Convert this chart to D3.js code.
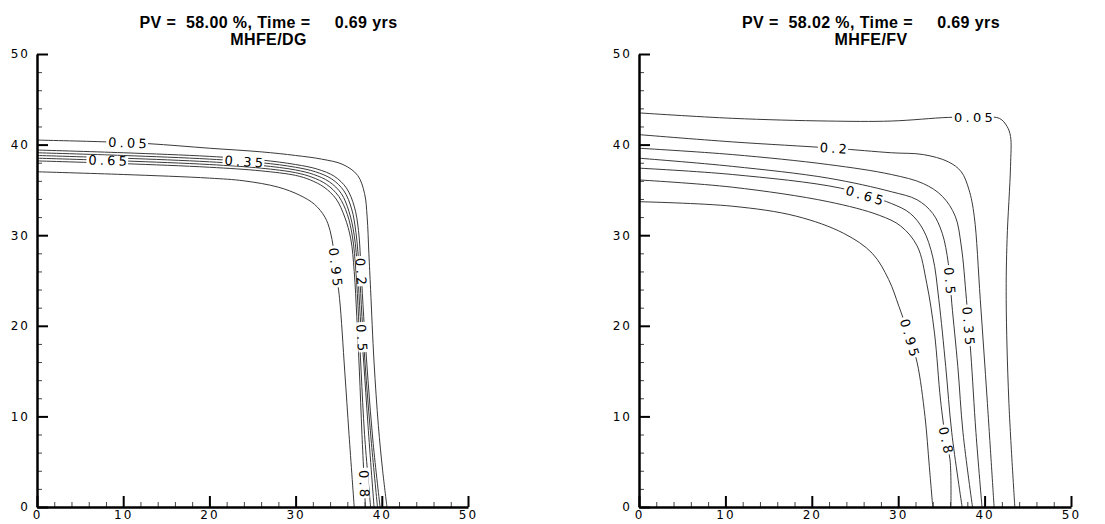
<!DOCTYPE html>
<html>
<head>
<meta charset="utf-8">
<script src="https://cdn.jsdelivr.net/npm/d3@7"></script>
<style>
  body { margin: 0; background: #fff; }
</style>
</head>
<body>
<svg id="chart" width="1105" height="524"></svg>
<script>
// axis ticks
const majorTicks = [0, 10, 20, 30, 40, 50];
const minorTicks = [2, 4, 6, 8, 12, 14, 16, 18, 22, 24, 26, 28, 32, 34, 36, 38, 42, 44, 46, 48];

// contour levels and their label text
const levels = [0.05, 0.2, 0.35, 0.5, 0.65, 0.8, 0.95];
const levelText = ['0.05', '0.2', '0.35', '0.5', '0.65', '0.8', '0.95'];

// MHFE/DG contour lines, one per level, [x, y]
const dgLines = [
  [[0,40.5],[8,40.3],[13,40.1],[20,39.6],[26,39.2],[30,38.8],[33,38.4],[35.5,37.8],[37.2,36.6],[38.0,34.6],[38.3,32],[38.5,28],[38.7,24],[39.1,16],[39.6,9],[40.1,4],[40.6,0]],
  [[0,39.4],[10,39.1],[20,38.7],[26,38.3],[30,37.8],[32.5,37.3],[34.5,36.5],[35.9,35.2],[36.8,33.2],[37.3,30.5],[37.6,26],[37.9,21],[38.4,14],[39.0,7],[39.8,0]],
  [[0,39.1],[10,38.8],[20,38.4],[26,38.0],[30,37.5],[32.3,37.0],[34.2,36.2],[35.6,34.9],[36.5,32.9],[37.0,30.3],[37.4,26],[37.7,21],[38.2,14],[38.8,7],[39.5,0]],
  [[0,38.8],[10,38.5],[20,38.1],[26,37.7],[30,37.2],[32.1,36.7],[33.9,35.9],[35.3,34.6],[36.2,32.6],[36.8,30.0],[37.2,26],[37.5,21],[37.9,16],[38.4,9],[39.1,0]],
  [[0,38.5],[10,38.2],[20,37.8],[26,37.4],[30,36.9],[31.9,36.4],[33.6,35.6],[35.0,34.3],[36.0,32.3],[36.6,29.8],[37.0,26],[37.3,21],[37.6,15],[38.0,8],[38.7,0]],
  [[0,38.2],[10,37.9],[20,37.5],[26,37.1],[30,36.6],[31.7,36.1],[33.3,35.3],[34.7,34.0],[35.7,32.0],[36.4,29.6],[36.8,26],[37.1,21],[37.4,15],[37.7,8],[38.1,0]],
  [[0,37.0],[10,36.7],[20,36.3],[24,36.0],[28,35.3],[30.5,34.4],[32.2,33.4],[33.4,32.0],[34.0,30.5],[34.4,28.5],[34.7,26],[35.1,23],[35.7,15],[36.2,8],[36.8,0]]
];
// where each DG label sits: level index, axis it is measured on, value
const dgLabels = [[0, 'x', 10.5], [4, 'x', 8.2], [2, 'x', 24], [6, 'y', 26.5], [1, 'y', 26], [3, 'y', 18.7], [5, 'y', 2.6]];

// MHFE/FV contour lines
const fvLines = [
  [[0,43.5],[10.8,42.9],[21.9,42.6],[29.2,42.6],[35.8,43.0],[38.7,43.0],[41.7,42.9],[42.6,42.0],[43.0,40.9],[43.0,37.6],[42.6,29.5],[42.5,22.9],[42.8,11.8],[43.5,0]],
  [[0,41.1],[10.8,40.3],[22.5,39.6],[29.2,39.1],[32.9,38.9],[35.8,38.1],[37.3,37.0],[38.2,35.0],[38.8,32.1],[39.5,22.9],[40.3,11.8],[41.1,0]],
  [[0,39.6],[10.8,38.9],[21.9,37.8],[29.2,36.7],[32.9,35.7],[35.1,34.3],[36.6,32.1],[37.3,28.8],[37.9,22.9],[38.4,17.0],[39.0,8.2],[39.7,0]],
  [[0,38.5],[10.8,37.6],[21.9,36.3],[29.2,34.8],[32.2,33.9],[34.0,32.4],[35.1,30.2],[35.8,26.9],[36.2,22.5],[36.9,15.5],[37.5,8.2],[38.6,0]],
  [[0,37.4],[10.8,36.7],[23.3,35.2],[29.2,33.5],[31.4,32.4],[32.9,30.6],[34.0,27.6],[34.7,22.9],[35.5,15.5],[36.2,8.2],[37.4,0]],
  [[0,36.1],[10.8,35.3],[21.9,33.7],[27.8,32.2],[30.3,31.0],[32.2,28.8],[33.3,24.7],[34.2,19.2],[34.9,11.8],[35.5,7.5],[36.0,5.2],[36.1,0]],
  [[0,33.7],[10.8,33.2],[18.2,32.1],[23.7,30.2],[27.0,28.0],[28.9,25.1],[30.1,22.1],[31.3,18.8],[32.2,15.9],[33.1,10.0],[33.6,4.5],[34.0,0]]
];
const fvLabels = [[0, 'x', 38.7], [1, 'x', 22.5], [4, 'x', 26.1], [3, 'y', 25], [2, 'y', 20], [6, 'y', 18.7], [5, 'y', 7.4]];

const titles = ['PV =  58.00 %, Time =     0.69 yrs', 'PV =  58.02 %, Time =     0.69 yrs'];
const subtitles = ['MHFE/DG', 'MHFE/FV'];

const svg = d3.select('#chart');

// find the point of a polyline at a given x or y, plus the local segment
function pointOn(pts, along, at) {
    const k = along === 'x' ? 0 : 1;
    for (let i = 0; i < pts.length - 1; i++) {
        const a = pts[i][k], b = pts[i + 1][k];
        if ((a - at) * (b - at) <= 0 && a !== b) {
            const t = (at - a) / (b - a);
            return {
                p: [pts[i][0] + t * (pts[i + 1][0] - pts[i][0]), pts[i][1] + t * (pts[i + 1][1] - pts[i][1])],
                p1: pts[i], p2: pts[i + 1]
            };
        }
    }
    return null;
}

function drawPanel(left, right, lines, labels, title, subtitle) {
    const x = d3.scaleLinear().domain([0, 50]).range([left, right]);
    const y = d3.scaleLinear().domain([0, 50]).range([507, 54]);
    const g = svg.append('g');

    // title, two lines
    const cx = (left + right) / 2 + 16;
    [[title, 27.5], [subtitle, 45]].forEach(([t, ty]) => {
        g.append('text')
            .attr('x', cx).attr('y', ty)
            .attr('text-anchor', 'middle')
            .attr('fill', '#000')
            .style('font-family', 'Liberation Sans, Arial, sans-serif')
            .style('font-weight', 'bold')
            .style('font-size', '16px')
            .style('letter-spacing', '0.4px')
            .style('white-space', 'pre')
            .text(t);
    });

    // contour lines
    const line = d3.line()
        .x(d => x(d[0]))
        .y(d => y(d[1]))
        .curve(d3.curveCatmullRom.alpha(0.5));

    g.append('g').selectAll('path')
        .data(lines)
        .join('path')
        .attr('d', line)
        .attr('fill', 'none')
        .attr('stroke', '#3a3a3a')
        .attr('stroke-width', 1);

    // contour labels on a white box that cuts the line
    labels.forEach(([li, along, at]) => {
        const hit = pointOn(lines[li], along, at);
        if (!hit) return;
        let ang = Math.atan2(y(hit.p2[1]) - y(hit.p1[1]), x(hit.p2[0]) - x(hit.p1[0])) * 180 / Math.PI;
        if (ang > 100) ang -= 180;
        if (ang < -100) ang += 180;
        const lg = g.append('g')
            .attr('transform', `translate(${x(hit.p[0])},${y(hit.p[1])}) rotate(${ang})`);
        const bg = lg.append('rect').attr('fill', '#fff');
        const t = lg.append('text')
            .attr('x', 1.6)
            .attr('dy', '0.36em')
            .attr('text-anchor', 'middle')
            .attr('fill', '#000')
            .style('font-family', 'DejaVu Sans, sans-serif')
            .style('font-size', '13px')
            .style('letter-spacing', '3.2px')
            .text(levelText[li]);
        const bb = t.node().getBBox();
        bg.attr('x', bb.x - 2).attr('y', -4.5)
            .attr('width', bb.width).attr('height', 9);
    });

    // axes: minor ticks first, then major ticks with labels
    const fontAxis = sel => sel.selectAll('text')
        .style('font-family', 'DejaVu Sans, sans-serif')
        .style('font-size', '12px')
        .style('letter-spacing', '2px')
        .attr('fill', '#000');

    g.append('g')
        .attr('transform', 'translate(0,507)')
        .call(d3.axisBottom(x).tickValues(minorTicks).tickSize(-5).tickFormat(''))
        .call(a => a.select('.domain').remove())
        .call(a => a.selectAll('line').attr('stroke', '#444'));
    g.append('g')
        .attr('transform', `translate(${left},0)`)
        .call(d3.axisLeft(y).tickValues(minorTicks).tickSize(-5).tickFormat(''))
        .call(a => a.select('.domain').remove())
        .call(a => a.selectAll('line').attr('stroke', '#444'));

    g.append('g')
        .attr('transform', 'translate(0,507)')
        .call(d3.axisBottom(x).tickValues(majorTicks).tickSize(-11).tickSizeOuter(0).tickPadding(3).tickFormat(d3.format('d')))
        .call(a => a.select('.domain').attr('stroke', '#000').attr('stroke-width', 2.5))
        .call(a => a.selectAll('line').attr('stroke', '#000').attr('stroke-width', 2))
        .call(fontAxis);
    g.append('g')
        .attr('transform', `translate(${left},0)`)
        .call(d3.axisLeft(y).tickValues(majorTicks).tickSize(-11).tickSizeOuter(0).tickPadding(7).tickFormat(d3.format('d')))
        .call(a => a.select('.domain').attr('stroke', '#000').attr('stroke-width', 2.5))
        .call(a => a.selectAll('line').attr('stroke', '#000').attr('stroke-width', 2))
        .call(fontAxis);
}

drawPanel(37, 468, dgLines, dgLabels, titles[0], subtitles[0]);
drawPanel(639, 1071, fvLines, fvLabels, titles[1], subtitles[1]);
</script>
</body>
</html>
